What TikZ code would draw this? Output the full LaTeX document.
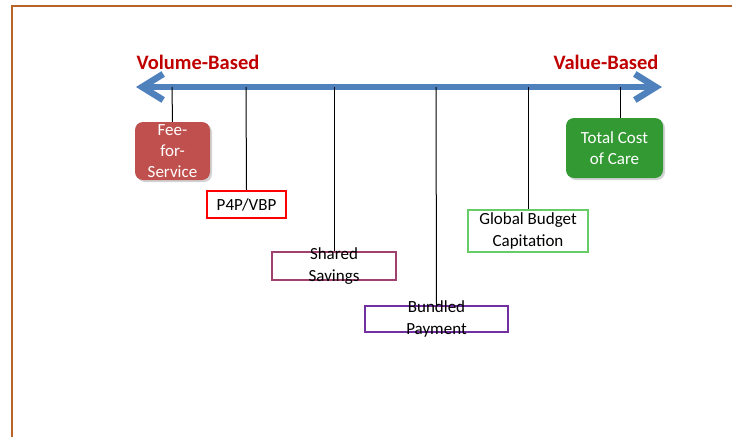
\documentclass[tikz,border=0pt]{standalone}
\usepackage{fontspec}
\setmainfont{Carlito}
\usetikzlibrary{arrows.meta, positioning, shadows}
\definecolor{axisblue}{RGB}{79,129,189}
\definecolor{framebrown}{RGB}{184,100,40}
\definecolor{labelred}{RGB}{192,0,0}
\definecolor{feered}{RGB}{192,80,77}
\definecolor{caregreen}{RGB}{51,153,51}
\definecolor{sharedmaroon}{RGB}{160,64,110}
\definecolor{bundlepurple}{RGB}{112,48,160}
\definecolor{globalgreen}{RGB}{102,204,102}

\begin{document}
\begin{tikzpicture}[x=1pt, y=-1pt,
  endlabel/.style={font=\fontsize{20.5}{24}\selectfont\bfseries, text=labelred, inner sep=0pt},
  filledbox/.style={fill=#1, rounded corners=8pt, text=white, align=center, inner sep=0pt,
    font=\fontsize{17}{21}\selectfont, drop shadow={opacity=0.35, shadow xshift=2pt, shadow yshift=-2pt}},
  outlinebox/.style={draw=#1, line width=2.5pt, inner sep=0pt, align=center, font=\fontsize{17}{22}\selectfont},
  boxtext/.style={align=center, font=\fontsize{17}{22}\selectfont, inner sep=0pt},
  connline/.style={black, line width=1pt}]
  \useasboundingbox (0,0) rectangle (732,437);
  \draw[framebrown, line width=2pt] (732,6) -- (12,6) -- (12,437);

  \coordinate (axisleft) at (136,87);
  \coordinate (axisright) at (662,87);
  \draw[axisblue, line width=6.5pt, line cap=round,
    {Straight Barb[length=21pt, width=26pt]}-{Straight Barb[length=21pt, width=26pt]}] (axisleft) -- (axisright);

  \node[endlabel] (volume) at (198,62) {Volume-Based};
  \node[endlabel] (value) at (606,62) {Value-Based};

  \node[filledbox=feered, minimum width=75pt, minimum height=58pt] (ffs) at (172.5,151) {Fee-\\for-\\Service};
  \node[filledbox=caregreen, minimum width=97pt, minimum height=60pt] (tcoc) at (614.5,148) {Total Cost\\of Care};
  \node[outlinebox=red, minimum width=79pt, minimum height=27pt] (p4p) at (246.5,204.5) {P4P/VBP};
  \node[outlinebox=globalgreen, minimum width=120pt, minimum height=42pt] (global) at (528,231) {Global Budget\\Capitation};
  \node[outlinebox=sharedmaroon, minimum width=124pt, minimum height=28pt] (shared) at (334,266) {};
  \node[boxtext] (sharedtext) at (shared) {Shared\\Savings};
  \node[outlinebox=bundlepurple, minimum width=143pt, minimum height=26pt] (bundled) at (436.5,319) {};
  \node[boxtext] (bundledtext) at (bundled) {Bundled\\Payment};

  \foreach \name/\xpos in {ffs/172, p4p/246, shared/334, bundled/436, global/528}{
    \coordinate (on-\name) at (\xpos,87);
    \draw[connline] (on-\name) -- (\name.north);
  }
  \coordinate (on-tcoc) at (620,87);
  \draw[connline] (on-tcoc) -- (on-tcoc |- tcoc.north);
\end{tikzpicture}
\end{document}
